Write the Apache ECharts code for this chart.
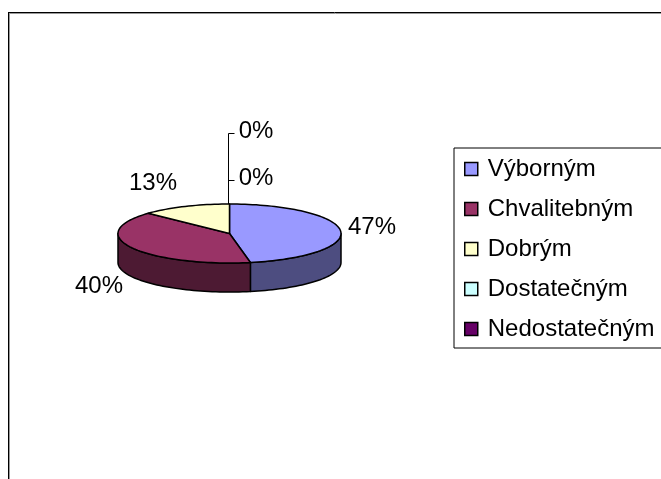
<!DOCTYPE html>
<html>
<head>
<meta charset="utf-8">
<script src="https://cdn.jsdelivr.net/npm/echarts@6/dist/echarts.min.js"></script>
<style>
  html, body { margin: 0; padding: 0; background: #fff; overflow: hidden; }
  #main { width: 661px; height: 479px; }
</style>
</head>
<body>
<div id="main"></div>
<script>
const categories = ['Výborným', 'Chvalitebným', 'Dobrým', 'Dostatečným', 'Nedostatečným'];
const percents = [47, 40, 13, 0, 0];
const colors = ['#9999ff', '#993366', '#ffffcc', '#ccffff', '#660066'];
const sideColors = ['#4d4d80', '#4d1a33', '#808066', '#668080', '#330033'];

// flattened pie, pixels
const cx = 229.5, cy = 233.5, rx = 111.5, ry = 29.5, depth = 29;
const font = '"Liberation Sans", Arial, sans-serif';
// where each percent label goes (centre of the text)
const labelPos = [[372, 227], [99, 286], [153, 183], [256, 178], [256, 131]];
const leaderX = 228.5;

const total = percents.reduce((a, b) => a + b, 0);
const pt = (deg, dy) => {
  const t = deg * Math.PI / 180;
  return [cx + rx * Math.sin(t), cy - ry * Math.cos(t) + (dy || 0)];
};
const arcPts = (from, to, dy) => {
  const out = [];
  const n = Math.max(2, Math.ceil(Math.abs(to - from) / 2));
  for (let i = 0; i <= n; i++) out.push(pt(from + (to - from) * i / n, dy));
  return out;
};

const makeRender = (index) => (params, api) => {
  const value = api.value(0);
  const before = percents.slice(0, index).reduce((a, b) => a + b, 0);
  const start = before / total * 360;
  const end = (before + value) / total * 360;
  const children = [];
  const line = { stroke: '#000', lineWidth: 1.5, lineJoin: 'round' };

  if (value > 0) {
    // only the part of the wall facing the viewer (90deg to 270deg)
    const a = Math.max(start, 90), b = Math.min(end, 270);
    if (b > a) {
      children.push({
        type: 'polygon',
        shape: { points: arcPts(a, b, 0).concat(arcPts(b, a, depth)) },
        style: { fill: sideColors[index], ...line }
      });
    }
    children.push({
      type: 'polygon',
      shape: { points: [[cx, cy]].concat(arcPts(start, end, 0)) },
      style: { fill: colors[index], ...line }
    });
  } else {
    // empty slice: leader from the top of the pie up to the label
    const y = Math.round(labelPos[index][1]) + 2.5;
    children.push({
      type: 'polyline',
      shape: { points: [[leaderX, pt(start)[1]], [leaderX, y], [leaderX + 6, y]] },
      style: { stroke: '#000', lineWidth: 1, fill: 'none' }
    });
  }
  children.push({
    type: 'text',
    x: labelPos[index][0],
    y: labelPos[index][1],
    style: {
      text: value + '%',
      font: '24px ' + font,
      fill: '#000',
      align: 'center',
      verticalAlign: 'middle'
    }
  });
  return { type: 'group', children: children };
};

const chart = echarts.init(document.getElementById('main'));
chart.setOption({
  animation: false,
  backgroundColor: '#fff',
  legend: {
    data: categories,
    orient: 'vertical',
    left: 454,
    top: 148,
    padding: [9, 30, 7, 10],
    icon: 'rect',
    itemWidth: 13,
    itemHeight: 13,
    itemGap: 16,
    selectedMode: false,
    borderColor: '#000',
    borderWidth: 1,
    itemStyle: { borderColor: '#000', borderWidth: 1.5 },
    textStyle: { color: '#000', fontFamily: font, fontSize: 24, padding: [0, 0, 0, 5] }
  },
  graphic: [
    { type: 'line', silent: true, shape: { x1: 8.5, y1: 12, x2: 8.5, y2: 479 }, style: { stroke: '#000', lineWidth: 1 } },
    { type: 'line', silent: true, shape: { x1: 9.5, y1: 13, x2: 9.5, y2: 479 }, style: { stroke: '#999', lineWidth: 1 } },
    { type: 'line', silent: true, shape: { x1: 8, y1: 12.5, x2: 661, y2: 12.5 }, style: { stroke: '#000', lineWidth: 1 } },
    { type: 'line', silent: true, shape: { x1: 10, y1: 13.5, x2: 661, y2: 13.5 }, style: { stroke: '#999', lineWidth: 1 } }
  ],
  series: categories.map((name, i) => ({
    name: name,
    type: 'custom',
    coordinateSystem: 'none',
    silent: true,
    itemStyle: { color: colors[i] },
    renderItem: makeRender(i),
    data: [percents[i]]
  }))
});
</script>
</body>
</html>
